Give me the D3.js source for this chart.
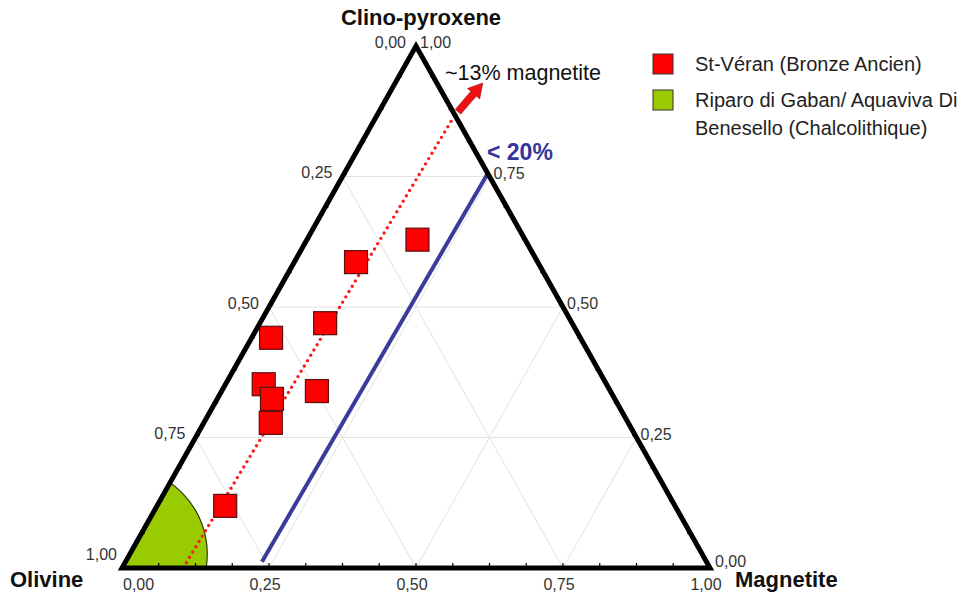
<!DOCTYPE html>
<html>
<head>
<meta charset="utf-8">
<script src="https://cdn.jsdelivr.net/npm/d3@7"></script>
<style>
  html, body { margin: 0; padding: 0; background: #fff; }
  svg { display: block; font-family: "Liberation Sans", Arial, Helvetica, sans-serif; }
</style>
</head>
<body>
<svg id="chart" width="961" height="594"></svg>
<script>
// ---- data ----
const vertexNames = ["Olivine", "Clino-pyroxene", "Magnetite"];
const tickValues = [0, 0.25, 0.5, 0.75, 1];
const tickLabels = ["0,00", "0,25", "0,50", "0,75", "1,00"];
const gridValues = [0.25, 0.5, 0.75];

// St-Véran samples (ternary fractions)
const stVeranCpx = [0.629, 0.586, 0.469, 0.441, 0.352, 0.339, 0.324, 0.278, 0.119];
const stVeranMag = [0.188, 0.105, 0.111, 0.033, 0.065, 0.162, 0.093, 0.114, 0.116];

// Riparo di Gaban field: circular area near olivine pole
const gabanCenter = { mag: -0.016, cpx: 0.027 };
const gabanRadius = 0.1475;

// ~13% magnetite trend (dotted red) and arrow
const trendLine = [{ mag: 0.104, cpx: 0.0 }, { mag: 0.132, cpx: 0.862 }];
const trendArrow = [{ mag: 0.1345, cpx: 0.874 }, { mag: 0.149, cpx: 0.929 }];
// < 20% limit (blue)
const limitLine = [{ mag: 0.232, cpx: 0.012 }, { mag: 0.244, cpx: 0.753 }];

const legendLabels = [["St-Véran (Bronze Ancien)"], ["Riparo di Gaban/ Aquaviva Di", "Benesello (Chalcolithique)"]];
const legendColors = ["#ff0000", "#99cc00"];

// ---- scales ----
const svg = d3.select("#chart");
const x = d3.scaleLinear().domain([0, 1]).range([122, 710]);
const y = d3.scaleLinear().domain([0, 1]).range([568, 46]);
const P = (mag, cpx) => [x(mag + cpx / 2), y(cpx)];
const line = d3.line();

const cornerO = P(0, 0), cornerM = P(1, 0), cornerC = P(0, 1);

// clip path
svg.append("defs").append("clipPath").attr("id", "tri")
  .append("path").attr("d", line([cornerO, cornerM, cornerC]) + "Z");

// grid
const grid = svg.append("g").attr("stroke", "#e2e2e2").attr("stroke-width", 1).attr("fill", "none");
gridValues.forEach(v => {
  grid.append("path").attr("d", line([P(0, v), P(1 - v, v)]));
  grid.append("path").attr("d", line([P(v, 0), P(v, 1 - v)]));
  grid.append("path").attr("d", line([P(1 - v, 0), P(0, 1 - v)]));
});

// green field
const gc = P(gabanCenter.mag, gabanCenter.cpx);
svg.append("circle")
  .attr("clip-path", "url(#tri)")
  .attr("cx", gc[0]).attr("cy", gc[1])
  .attr("r", x(gabanRadius) - x(0))
  .attr("fill", "#99cc00").attr("stroke", "#2a3a00").attr("stroke-width", 1.2);

// blue limit line
svg.append("path")
  .attr("d", line(limitLine.map(d => P(d.mag, d.cpx))))
  .attr("stroke", "#3b3b9e").attr("stroke-width", 4).attr("fill", "none");

// red dotted trend line
svg.append("path")
  .attr("d", line(trendLine.map(d => P(d.mag, d.cpx))))
  .attr("stroke", "#ff1a1a").attr("stroke-width", 3.4).attr("fill", "none")
  .attr("stroke-linecap", "round").attr("stroke-dasharray", "0 6.2");

// arrow
(function () {
  const s = P(trendArrow[0].mag, trendArrow[0].cpx);
  const t = P(trendArrow[1].mag, trendArrow[1].cpx);
  const dx = t[0] - s[0], dy = t[1] - s[1];
  const len = Math.hypot(dx, dy);
  const ux = dx / len, uy = dy / len, nx = -uy, ny = ux;
  const hl = 14, hw = 8, sw = 3.6;
  const b = [t[0] - ux * hl, t[1] - uy * hl];
  const pts = [
    [s[0] + nx * sw, s[1] + ny * sw],
    [b[0] + nx * sw, b[1] + ny * sw],
    [b[0] + nx * hw, b[1] + ny * hw],
    t,
    [b[0] - nx * hw, b[1] - ny * hw],
    [b[0] - nx * sw, b[1] - ny * sw],
    [s[0] - nx * sw, s[1] - ny * sw]
  ];
  svg.append("path").attr("d", line(pts) + "Z")
    .attr("fill", "#ee1111").attr("stroke", "#a00000").attr("stroke-width", 0.6);
})();

// St-Véran squares
const sq = 23;
svg.append("g").selectAll("rect")
  .data(stVeranCpx.map((c, i) => ({ cpx: c, mag: stVeranMag[i] })))
  .join("rect")
  .attr("x", d => P(d.mag, d.cpx)[0] - sq / 2)
  .attr("y", d => P(d.mag, d.cpx)[1] - sq / 2)
  .attr("width", sq).attr("height", sq)
  .attr("fill", "#ff0000").attr("stroke", "#5a1010").attr("stroke-width", 1.2);

// triangle edges
svg.append("path").attr("d", line([cornerO, cornerM, cornerC]) + "Z")
  .attr("fill", "none").attr("stroke", "#000").attr("stroke-width", 5)
  .attr("stroke-linejoin", "miter");

// small ticks (inward)
const ticks = svg.append("g").attr("stroke", "#000").attr("stroke-width", 1.2);
for (let k = 1; k < 16; k++) {
  const v = k / 16;
  const tl = 5;
  // bottom edge
  let p = P(v, 0); ticks.append("line").attr("x1", p[0]).attr("y1", p[1]).attr("x2", p[0]).attr("y2", p[1] - tl);
  // right edge
  p = P(1 - v, v); ticks.append("line").attr("x1", p[0]).attr("y1", p[1]).attr("x2", p[0] - tl * 0.866).attr("y2", p[1] - tl * 0.5);
  // left edge
  p = P(0, v); ticks.append("line").attr("x1", p[0]).attr("y1", p[1]).attr("x2", p[0] + tl * 0.866).attr("y2", p[1] - tl * 0.5);
}

// tick labels
const tl = svg.append("g").attr("font-size", 16).attr("fill", "#333");
tickValues.forEach((v, i) => {
  // bottom: magnetite fraction
  const pb = P(v, 0);
  tl.append("text").text(tickLabels[i])
    .attr("x", v === 0 ? pb[0] + 1 : pb[0] - 4).attr("y", 590)
    .attr("text-anchor", v === 0 ? "start" : "middle");
  // left: olivine fraction
  const pl = P(0, 1 - v);
  tl.append("text").text(tickLabels[i])
    .attr("x", v === 1 ? pl[0] - 5 : pl[0] - 10)
    .attr("y", v === 1 ? pl[1] - 8 : pl[1] + 1.5)
    .attr("text-anchor", "end");
  // right: clino-pyroxene fraction
  const pr = P(1 - v, v);
  tl.append("text").text(tickLabels[i])
    .attr("x", v === 0 ? pr[0] + 5 : pr[0] + 4)
    .attr("y", v === 0 ? pr[1] - 1 : pr[1] + 2)
    .attr("text-anchor", "start");
});

// vertex titles
const titles = svg.append("g").attr("font-size", 22).attr("font-weight", "bold").attr("fill", "#111");
titles.append("text").text(vertexNames[1]).attr("x", 421).attr("y", 25).attr("text-anchor", "middle");
titles.append("text").text(vertexNames[0]).attr("x", 10).attr("y", 587);
titles.append("text").text(vertexNames[2]).attr("x", 735).attr("y", 587);

// annotations
svg.append("text").text("~13% magnetite").attr("x", 445).attr("y", 80)
  .attr("font-size", 21.5).attr("fill", "#111");
svg.append("text").text("< 20%").attr("x", 487).attr("y", 160)
  .attr("font-size", 23).attr("font-weight", "bold").attr("fill", "#34349a");

// legend
const lg = svg.append("g");
const legY = [54, 90];
legendLabels.forEach((lines, i) => {
  lg.append("rect").attr("x", 653).attr("y", legY[i]).attr("width", 20).attr("height", 20)
    .attr("fill", legendColors[i]).attr("stroke", "#333").attr("stroke-width", 1);
  lines.forEach((t, j) => {
    lg.append("text").text(t).attr("x", 695).attr("y", legY[i] + 17 + j * 28)
      .attr("font-size", 20).attr("fill", "#222");
  });
});
</script>
</body>
</html>
